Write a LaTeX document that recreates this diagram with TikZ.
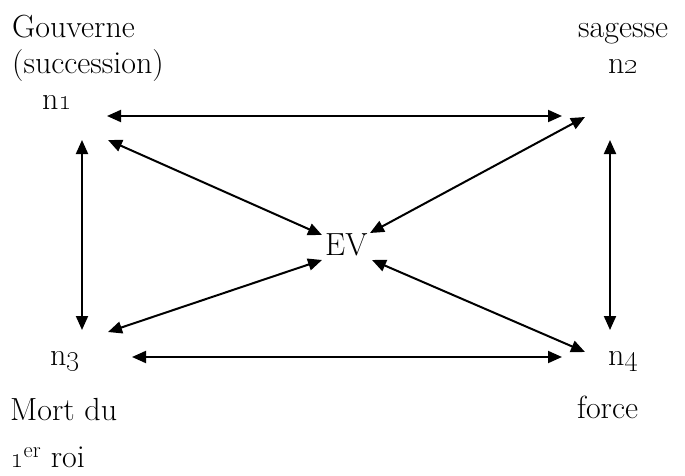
\documentclass[tikz,border=0pt]{standalone}
\usetikzlibrary{arrows.meta}
\begin{document}
\begin{tikzpicture}[x=1pt,y=-1pt,
  lbl/.style={anchor=base west, inner sep=0pt, font=\fontsize{32}{36}\selectfont},
  link/.style={line width=2pt, >={Triangle[length=14pt,width=12pt]}, <->}]
\useasboundingbox (0,0) rectangle (685,476);
% labels
\node[lbl] (gouv) at (12,38) {Gouverne};
\node[lbl] (succ) at (12,74) {(succession)};
\node[lbl] (n1) at (42,110) {n\oldstylenums{1}};
\node[lbl] (sag) at (578,38) {sagesse};
\node[lbl] (n2) at (608,74) {n\oldstylenums{2}};
\node[lbl] (ev) at (325,255) {EV};
\node[lbl] (n3) at (50,365) {n\oldstylenums{3}};
\node[lbl] (n4) at (608,365) {n\oldstylenums{4}};
\node[lbl] (mort) at (10,420) {Mort du};
\node[lbl] (roi) at (10,467) {\oldstylenums{1}\textsuperscript{er} roi};
\node[lbl] (force) at (577,418) {force};
% arrow end points
\coordinate (a1) at (107,116);
\coordinate (a2) at (562,116);
\coordinate (b1) at (132,357);
\coordinate (b2) at (562,357);
\coordinate (l1) at (82,140);
\coordinate (l2) at (82,330);
\coordinate (r1) at (610,140);
\coordinate (r2) at (610,330);
\coordinate (d1a) at (108,140);
\coordinate (d1b) at (322,235);
\coordinate (d2a) at (585,117);
\coordinate (d2b) at (370,233);
\coordinate (d3a) at (108,332);
\coordinate (d3b) at (322,260);
\coordinate (d4a) at (585,352);
\coordinate (d4b) at (372,260);
% connectors
\draw[link] (a1) -- (a2);
\draw[link] (b1) -- (b2);
\draw[link] (l1) -- (l2);
\draw[link] (r1) -- (r2);
\draw[link] (d1a) -- (d1b);
\draw[link] (d2a) -- (d2b);
\draw[link] (d3a) -- (d3b);
\draw[link] (d4a) -- (d4b);
\end{tikzpicture}
\end{document}
